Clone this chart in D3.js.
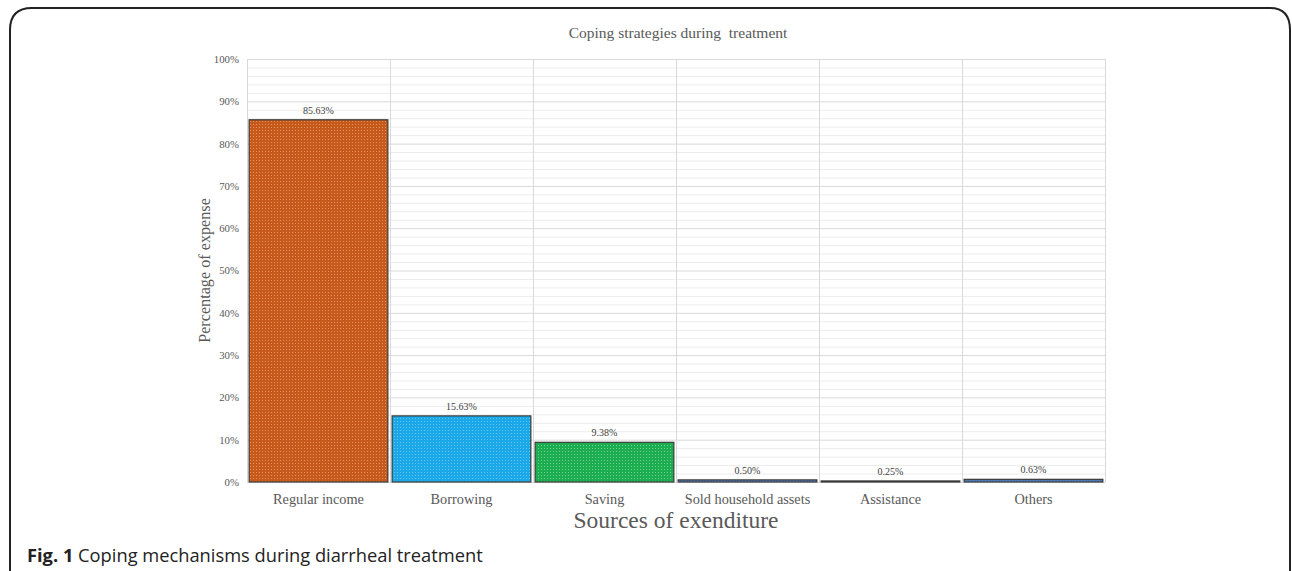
<!DOCTYPE html>
<html>
<head>
<meta charset="utf-8">
<script src="https://cdn.jsdelivr.net/npm/d3@7"></script>
<style>
html,body{margin:0;padding:0;background:#fff;}
svg{display:block;}
</style>
</head>
<body>
<svg id="chart" width="1292" height="571"></svg>
<script>
const categories = ["Regular income","Borrowing","Saving","Sold household assets","Assistance","Others"];
const values = [85.63, 15.63, 9.38, 0.50, 0.25, 0.63];
const valueLabels = ["85.63%","15.63%","9.38%","0.50%","0.25%","0.63%"];
const yTicks = [0,10,20,30,40,50,60,70,80,90,100];
const barColors = ["#c55a1c","#1ba8e8","#1bad50","#4a78b2","#5a6a80","#4a78b2"];
const dotColors = ["#e8915a","#63c6f2","#6fd18f","#7f9fcc","#8a96a8","#7f9fcc"];

const svg = d3.select("#chart");
const W = 1292, H = 571;
const m = {left:247, right:1105, top:59, bottom:482};
const serif = "'Liberation Serif','Times New Roman',serif";

// frame
svg.append("path")
  .attr("d", `M10,${H+20} L10,30 Q10,8 32,8 L1270,8 Q1290,8 1290,30 L1290,${H+20}`)
  .attr("fill","none").attr("stroke","#222").attr("stroke-width",2);

// patterns
const defs = svg.append("defs");
barColors.forEach((c,i)=>{
  const p = defs.append("pattern").attr("id","pat"+i).attr("patternUnits","userSpaceOnUse")
    .attr("width",3).attr("height",3);
  p.append("rect").attr("width",3).attr("height",3).attr("fill",c);
  p.append("rect").attr("x",1).attr("y",1).attr("width",1).attr("height",1).attr("fill",dotColors[i]);
});

const x = d3.scaleBand().domain(categories).range([m.left,m.right]).paddingInner(0.03).paddingOuter(0.015);
const xb = d3.scaleBand().domain(categories).range([m.left,m.right]);
const y = d3.scaleLinear().domain([0,100]).range([m.bottom,m.top]);

// minor gridlines
const minor = d3.range(0,101,2).filter(v=>v%10!==0);
svg.append("g").selectAll("line").data(minor).join("line")
  .attr("x1",m.left).attr("x2",m.right)
  .attr("y1",d=>y(d)+0.5).attr("y2",d=>y(d)+0.5)
  .attr("stroke","#ececec").attr("stroke-width",1);
// major gridlines
svg.append("g").selectAll("line").data(yTicks).join("line")
  .attr("x1",m.left).attr("x2",m.right)
  .attr("y1",d=>y(d)+0.5).attr("y2",d=>y(d)+0.5)
  .attr("stroke","#d9d9d9").attr("stroke-width",1);
// vertical gridlines at category boundaries
const bounds = categories.map(c=>xb(c)).concat([m.right]);
svg.append("g").selectAll("line").data(bounds).join("line")
  .attr("x1",d=>d+0.5).attr("x2",d=>d+0.5)
  .attr("y1",m.top).attr("y2",m.bottom)
  .attr("stroke","#d9d9d9").attr("stroke-width",1);

// y axis
const yAxis = d3.axisLeft(y).tickValues(yTicks).tickFormat(d=>d+"%").tickSize(0).tickPadding(8);
const ga = svg.append("g").attr("transform",`translate(${m.left},0)`).call(yAxis);
ga.select(".domain").remove();
ga.selectAll("text").attr("font-family",serif)
  .attr("font-size",10.8).attr("fill","#595959");

// bars
svg.append("g").selectAll("rect").data(values).join("rect")
  .attr("x",(d,i)=>x(categories[i]))
  .attr("width",x.bandwidth())
  .attr("y",d=>y(d))
  .attr("height",d=>Math.max(y(0)-y(d),0))
  .attr("fill",(d,i)=>`url(#pat${i})`)
  .attr("stroke","#3a3a3a").attr("stroke-width",1.2);

// value labels
svg.append("g").selectAll("text").data(values).join("text")
  .attr("x",(d,i)=>x(categories[i])+x.bandwidth()/2)
  .attr("y",d=>y(d)-6)
  .attr("text-anchor","middle")
  .attr("font-family",serif)
  .attr("font-size",10).attr("fill","#404040")
  .text((d,i)=>valueLabels[i]);

// x axis
const xAxis = d3.axisBottom(xb).tickSize(0).tickPadding(12);
const gx = svg.append("g").attr("transform",`translate(0,${m.bottom})`).call(xAxis);
gx.select(".domain").remove();
gx.selectAll("text").attr("font-family",serif)
  .attr("font-size",14.3).attr("fill","#595959");

// title
svg.append("text").attr("x",(m.left+m.right)/2 + 2).attr("y",38)
  .attr("text-anchor","middle")
  .attr("font-family",serif)
  .attr("font-size",15.5).attr("fill","#595959")
  .attr("xml:space","preserve")
  .text("Coping strategies during  treatment");

// y title
svg.append("text").attr("transform",`translate(210,${(m.top+m.bottom)/2}) rotate(-90)`)
  .attr("text-anchor","middle")
  .attr("font-family",serif)
  .attr("font-size",16.2).attr("fill","#595959")
  .text("Percentage of expense");

// x title
svg.append("text").attr("x",(m.left+m.right)/2).attr("y",528)
  .attr("text-anchor","middle")
  .attr("font-family",serif)
  .attr("font-size",23.5).attr("fill","#595959")
  .text("Sources of exenditure");

// caption
const cap = svg.append("text").attr("x",27).attr("y",562)
  .attr("font-family","'Open Sans','Noto Sans',sans-serif")
  .attr("font-size",18.3).attr("fill","#222");
cap.append("tspan").attr("font-weight","bold").text("Fig. 1");
cap.append("tspan").text(" Coping mechanisms during diarrheal treatment");
</script>
</body>
</html>
